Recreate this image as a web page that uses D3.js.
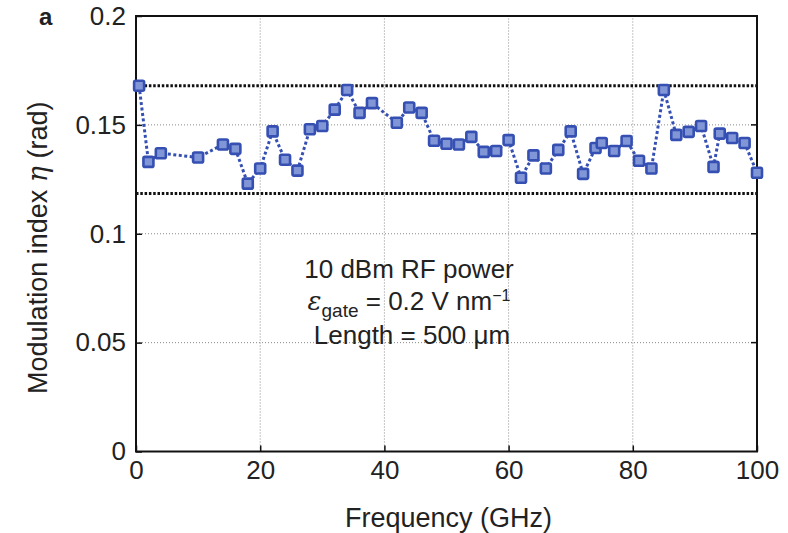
<!DOCTYPE html>
<html>
<head>
<meta charset="utf-8">
<script src="https://cdn.jsdelivr.net/npm/d3@7"></script>
<style>
  html, body { margin: 0; padding: 0; background: #fff; }
  svg { display: block; font-family: "Liberation Sans", Arial, sans-serif; }
</style>
</head>
<body>
<svg id="chart" width="788" height="533"></svg>
<script>
// Measured modulation index versus RF frequency
const frequencyGHz = [0.5, 2, 4, 10, 14, 16, 18, 20, 22, 24, 26, 28, 30, 32, 34, 36, 38,
  42, 44, 46, 48, 50, 52, 54, 56, 58, 60, 62, 64, 66, 68, 70, 72, 74, 75, 77, 79, 81, 83,
  85, 87, 89, 91, 93, 94, 96, 98, 100];
const modulationIndex = [0.168, 0.133, 0.137, 0.135, 0.141, 0.139, 0.123, 0.130, 0.147, 0.134,
  0.129, 0.148, 0.1495, 0.157, 0.166, 0.1555, 0.160,
  0.151, 0.158, 0.1555, 0.1427, 0.1413, 0.141, 0.1445, 0.1376, 0.138, 0.143, 0.1257, 0.136,
  0.130, 0.1385, 0.147, 0.1275, 0.1394, 0.1417, 0.138, 0.1426, 0.1335, 0.130,
  0.166, 0.1454, 0.1468, 0.1495, 0.1307, 0.146, 0.144, 0.1417, 0.128];
// Upper and lower bounds of the spread
const boundLevels = [0.168, 0.1185];
const xTicks = [0, 20, 40, 60, 80, 100];
const yTicks = [0, 0.05, 0.1, 0.15, 0.2];
const noteLines = ["10 dBm RF power", "gate", "Length = 500 \u03BCm"];

const svg = d3.select("#chart");
const sans = "Liberation Sans, Arial, sans-serif";
const margin = { left: 136, right: 31, top: 16, bottom: 82 };
const W = 788, H = 533;
const x = d3.scaleLinear().domain([0, 100]).range([margin.left, W - margin.right]);
const y = d3.scaleLinear().domain([0, 0.2]).range([H - margin.bottom + 0.5, margin.top]);

const blue = "#3550b2";
const ink = "#222";

// Grid
const grid = svg.append("g");
grid.selectAll("line.vx").data(xTicks.slice(1, -1)).join("line")
  .attr("x1", d => x(d)).attr("x2", d => x(d))
  .attr("y1", y(0)).attr("y2", y(0.2))
  .attr("stroke", "#8a8a8a").attr("stroke-width", 1).attr("stroke-dasharray", "1,2");
grid.selectAll("line.hy").data(yTicks.slice(1, -1)).join("line")
  .attr("x1", x(0)).attr("x2", x(100))
  .attr("y1", d => y(d)).attr("y2", d => y(d))
  .attr("stroke", "#8a8a8a").attr("stroke-width", 1).attr("stroke-dasharray", "1,2");

// Bounds
svg.append("g").selectAll("line").data(boundLevels).join("line")
  .attr("x1", x(0)).attr("x2", x(100))
  .attr("y1", d => y(d)).attr("y2", d => y(d))
  .attr("stroke", "#111").attr("stroke-width", 3).attr("stroke-dasharray", "2.5,1.8");

// Axes
const tickFont = 26;
const xAxis = d3.axisBottom(x).tickValues(xTicks).tickSize(-6).tickPadding(9).tickFormat(d3.format("d"));
const gx = svg.append("g").attr("transform", `translate(0,${y(0)})`).call(xAxis);
gx.select(".domain").remove();
gx.selectAll(".tick line").attr("stroke", "#111").attr("stroke-width", 1.5);
gx.selectAll(".tick text").attr("font-size", tickFont).attr("fill", ink).attr("font-family", sans);

const yAxis = d3.axisLeft(y).tickValues(yTicks).tickSize(-6).tickPadding(10)
  .tickFormat(d => d === 0 ? "0" : String(+d.toFixed(2)));
const gy = svg.append("g").attr("transform", `translate(${x(0)},0)`).call(yAxis);
gy.select(".domain").remove();
gy.selectAll(".tick line").attr("stroke", "#111").attr("stroke-width", 1.5);
gy.selectAll(".tick text").attr("font-size", tickFont).attr("fill", ink).attr("font-family", sans);

// Right ticks
svg.append("g").selectAll("line").data(yTicks.slice(1, -1)).join("line")
  .attr("x1", x(100)).attr("x2", x(100) - 6)
  .attr("y1", d => y(d)).attr("y2", d => y(d))
  .attr("stroke", "#111").attr("stroke-width", 1.5);

// Frame
svg.append("rect")
  .attr("x", x(0)).attr("y", y(0.2))
  .attr("width", x(100) - x(0)).attr("height", y(0) - y(0.2))
  .attr("fill", "none").attr("stroke", "#111").attr("stroke-width", 2);

// Series
const pts = frequencyGHz.map((f, i) => [f, modulationIndex[i]]);
svg.append("path")
  .datum(pts)
  .attr("d", d3.line().x(d => x(d[0])).y(d => y(d[1])))
  .attr("fill", "none").attr("stroke", blue).attr("stroke-width", 3)
  .attr("stroke-dasharray", "3,2.5");
const m = 10;
svg.append("g").selectAll("rect").data(pts).join("rect")
  .attr("x", d => x(d[0]) - m / 2).attr("y", d => y(d[1]) - m / 2)
  .attr("width", m).attr("height", m).attr("rx", 1.5)
  .attr("fill", "#8096d6").attr("stroke", blue).attr("stroke-width", 2.6);

// Axis titles
const titleFont = 27;
svg.append("text")
  .attr("x", (x(0) + x(100)) / 2 + 2).attr("y", 527)
  .attr("text-anchor", "middle").attr("font-size", titleFont).attr("fill", ink)
  .attr("font-family", sans)
  .text("Frequency (GHz)");
const yt = svg.append("text")
  .attr("transform", `translate(47,${(y(0) + y(0.2)) / 2 + 14}) rotate(-90)`)
  .attr("text-anchor", "middle").attr("font-size", titleFont).attr("fill", ink)
  .attr("font-family", sans);
yt.append("tspan").text("Modulation index ");
yt.append("tspan").attr("font-style", "italic").attr("font-family", "DejaVu Serif, serif").text("\u03B7");
yt.append("tspan").text(" (rad)");

// Panel letter
svg.append("text").attr("x", 39).attr("y", 25).attr("font-size", 24)
  .attr("font-family", sans).attr("font-weight", "bold").attr("fill", ink).text("a");

// Annotation
const noteFont = 26;
const cx = 409;
svg.append("text").attr("x", cx).attr("y", 278).attr("text-anchor", "middle")
  .attr("font-size", noteFont).attr("font-family", sans).attr("fill", ink).text(noteLines[0]);
const l2 = svg.append("text").attr("x", cx).attr("y", 310).attr("text-anchor", "middle")
  .attr("font-size", noteFont).attr("font-family", sans).attr("fill", ink);
l2.append("tspan").attr("font-style", "italic").attr("font-family", "DejaVu Serif, serif").text("\u03B5");
l2.append("tspan").attr("font-size", 19).attr("dy", 7).text(noteLines[1]);
l2.append("tspan").attr("dy", -7).text(" = 0.2 V nm");
l2.append("tspan").attr("font-size", 16).attr("dy", -9).text("\u22121");
svg.append("text").attr("x", cx + 3).attr("y", 344).attr("text-anchor", "middle")
  .attr("font-size", noteFont).attr("font-family", sans).attr("fill", ink).text(noteLines[2]);
</script>
</body>
</html>
